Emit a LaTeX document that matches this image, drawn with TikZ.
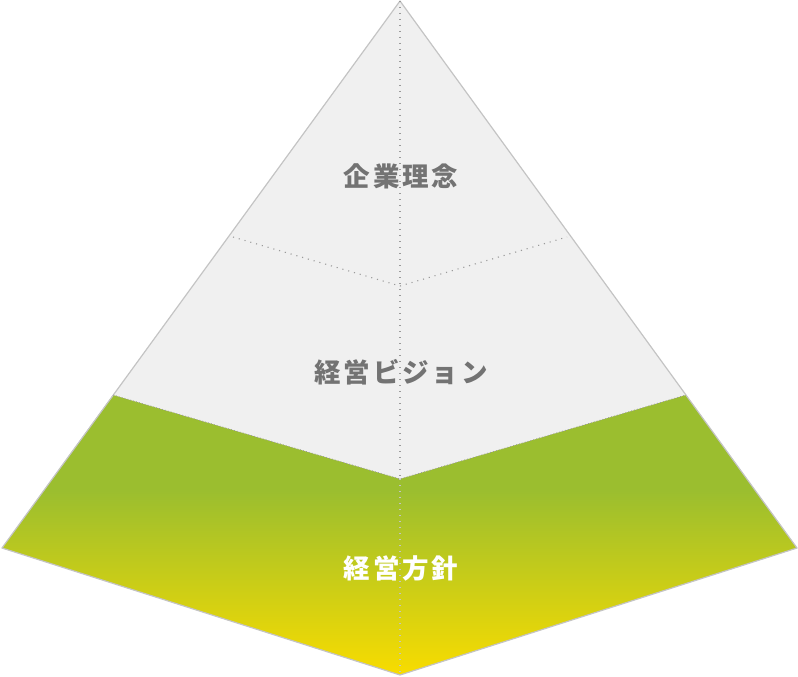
\documentclass[tikz,border=0pt]{standalone}
\usepackage{fontspec}
\usepackage{xcolor}
\newfontfamily\jpfont{Noto Sans CJK JP}[LetterSpace=11]

\definecolor{pyrgrey}{HTML}{F0F0F0}
\definecolor{pyredge}{HTML}{C4C4C4}
\definecolor{pyrtext}{HTML}{737373}
\definecolor{pyrdot}{HTML}{9A9A9A}
\definecolor{pyrgreen}{HTML}{9BBE2F}
\definecolor{pyryellow}{HTML}{F8DC00}

\pgfdeclareverticalshading{pyrfade}{100bp}{color(0bp)=(pyryellow); color(25bp)=(pyryellow); color(58bp)=(pyrgreen); color(100bp)=(pyrgreen)}

\begin{document}
\begin{tikzpicture}[x=1pt, y=-1pt,
    dotline/.style={pyrdot, line width=1.1pt, dash pattern=on 1.1pt off 4.9pt},
    fineline/.style={pyrdot, line width=0.9pt, dash pattern=on 0.9pt off 2.1pt},
    tier/.style={font=\jpfont\bfseries\fontsize{26.5}{30}\selectfont, text=pyrtext, inner sep=0pt}]
    \useasboundingbox (0,0) rectangle (798,677);

    % Corners
    \coordinate (apex) at (400,1);
    \coordinate (lft) at (2,548);
    \coordinate (rgt) at (797,548);
    \coordinate (bot) at (400,675);
    \coordinate (upl) at (233,237);
    \coordinate (upm) at (400,286);
    \coordinate (upr) at (567,237);
    \coordinate (lol) at (113,395);
    \coordinate (lom) at (400,479);
    \coordinate (lor) at (686,395);

    % Faces
    \fill[pyrgrey] (apex) -- (lft) -- (bot) -- (rgt) -- cycle;
    \shade[shading=pyrfade] (lol) -- (lft) -- (bot) -- (rgt) -- (lor) -- (lom) -- cycle;
    \draw[pyredge, line width=1.2pt, line join=round] (apex) -- (lft) -- (bot) -- (rgt) -- cycle;

    % Dotted edges
    \draw[dotline] (apex) -- (lom);
    \draw[dotline, pyredge] (lom) -- (bot);
    \draw[dotline] (upl) -- (upm) -- (upr);
    \draw[fineline] (lol) -- (lom) -- (lor);

    % Labels
    \node[tier] (rinen) at (401,176) {企業理念};
    \node[tier] (vision) at (401,372) {経営ビジョン};
    \node[tier, text=white] (hoshin) at (401,568) {経営方針};
\end{tikzpicture}
\end{document}
